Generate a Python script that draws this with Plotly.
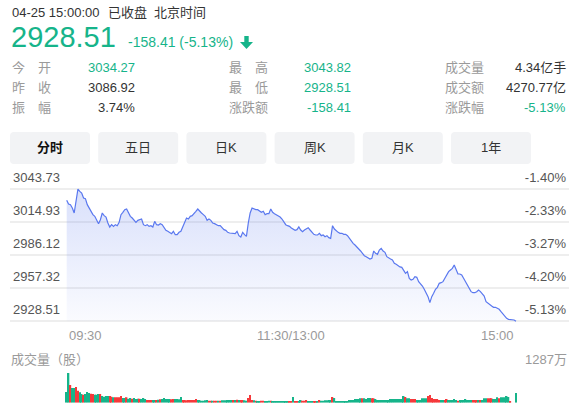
import plotly.graph_objects as go

W, H = 571, 405
FONT = "Liberation Sans, Noto Sans CJK SC, sans-serif"
GREEN = "#16b48a"
RED = "#f5393b"
BLUE = "#5a78ef"
GRAY = "#9a9a9a"
DARK = "#333333"

# --- data: 上证指数 04-25 分时 ---
PREV_CLOSE = 3086.92

# one price per trading minute, 09:30 .. 11:30/13:00 .. 15:00
PRICE = [
    3034.27, 3030.90, 3030.32, 3027.41, 3023.04, 3034.68, 3043.82, 3041.96, 3040.50, 3036.14,
    3035.56, 3030.32, 3027.41, 3024.50, 3021.59, 3020.13, 3017.22, 3013.73, 3017.22, 3023.04,
    3020.71, 3019.55, 3014.31, 3010.82, 3012.86, 3011.40, 3012.86, 3011.98, 3014.89, 3021.59,
    3023.62, 3025.95, 3026.53, 3023.62, 3020.13, 3018.68, 3016.64, 3014.89, 3016.64, 3017.22,
    3017.80, 3012.86, 3011.98, 3012.86, 3011.40, 3011.98, 3010.82, 3015.77, 3012.86, 3012.57,
    3013.73, 3012.86, 3009.95, 3007.91, 3007.04, 3006.17, 3005.00, 3007.04, 3004.13, 3004.13,
    3006.17, 3007.04, 3011.40, 3015.77, 3018.68, 3017.80, 3020.13, 3020.71, 3023.04, 3024.50,
    3026.53, 3024.50, 3023.04, 3021.59, 3020.13, 3016.64, 3017.80, 3016.64, 3014.31, 3013.73,
    3012.86, 3011.98, 3011.98, 3009.95, 3008.49, 3007.91, 3006.17, 3005.59, 3005.59, 3005.59,
    3005.00, 3007.04, 3003.26, 3002.09, 3006.17, 3004.13, 3002.67, 3014.31, 3023.04, 3027.41,
    3026.53, 3025.95, 3025.95, 3024.50, 3023.62, 3024.50, 3021.59, 3022.46, 3022.46, 3026.53,
    3023.62, 3022.46, 3021.59, 3020.71, 3019.55, 3017.80, 3015.77, 3012.86, 3011.98, 3011.40,
    3009.95, 3009.08, 3007.91, 3008.49, 3010.90, 3008.20, 3006.74, 3008.20, 3009.65, 3010.24,
    3008.20, 3006.16, 3004.42, 3003.83, 3003.83, 3005.29, 3003.25, 3003.83, 3002.38, 3003.25,
    3001.50, 3000.92, 3011.98, 3009.07, 3007.33, 3006.16, 3005.29, 3005.29, 3004.42, 3004.42,
    3003.25, 3000.92, 2999.47, 2996.56, 2995.10, 2993.65, 2992.19, 2989.87, 2987.83, 2985.79,
    2984.92, 2983.47, 2982.88, 2983.47, 2989.87, 2987.83, 2986.96, 2990.74, 2992.19, 2989.87,
    2988.70, 2984.92, 2983.47, 2982.88, 2982.01, 2979.10, 2978.23, 2977.07, 2976.00, 2975.62,
    2973.29, 2970.38, 2971.84, 2966.02, 2964.56, 2965.15, 2967.47, 2966.89, 2963.11, 2961.65,
    2959.33, 2956.42, 2952.92, 2950.01, 2944.78, 2950.01, 2952.92, 2956.42, 2958.16, 2961.65,
    2962.23, 2963.11, 2966.02, 2968.93, 2971.84, 2973.29, 2974.75, 2977.66, 2973.87, 2969.80,
    2969.80, 2968.93, 2966.02, 2963.11, 2960.20, 2958.16, 2954.38, 2953.51, 2953.51, 2954.38,
    2955.83, 2954.38, 2952.92, 2950.60, 2945.65, 2944.19, 2942.74, 2941.87, 2940.70, 2940.70,
    2939.83, 2938.96, 2936.92, 2934.88, 2932.56, 2931.10, 2930.23, 2930.23, 2929.65, 2929.65,
    2928.51,
]

# 成交量, 万股 per minute
VOLUME = [
    463, 1287, 766, 636, 636, 680, 520, 448, 376, 347,
    376, 463, 419, 390, 376, 347, 347, 376, 376, 289,
    260, 289, 289, 289, 260, 231, 231, 231, 231, 289,
    202, 202, 231, 174, 202, 174, 202, 159, 174, 174,
    159, 202, 159, 116, 116, 116, 116, 116, 116, 130,
    145, 159, 202, 159, 159, 159, 145, 159, 159, 159,
    145, 246, 116, 116, 101, 116, 116, 116, 116, 159,
    116, 116, 87, 87, 101, 116, 87, 87, 87, 87,
    87, 87, 87, 101, 101, 101, 116, 116, 116, 116,
    116, 130, 116, 116, 116, 101, 87, 202, 333, 116,
    101, 87, 72, 72, 87, 87, 72, 72, 87, 87,
    72, 72, 72, 58, 72, 72, 72, 58, 72, 43,
    43, 246, 72, 72, 72, 116, 87, 87, 116, 72,
    72, 72, 72, 72, 72, 116, 87, 87, 101, 101,
    116, 116, 246, 202, 72, 72, 72, 72, 72, 72,
    72, 116, 116, 116, 159, 159, 159, 188, 188, 188,
    159, 202, 202, 188, 188, 159, 116, 116, 116, 116,
    116, 116, 116, 159, 159, 159, 159, 159, 159, 159,
    289, 246, 188, 188, 159, 159, 159, 116, 116, 116,
    188, 188, 188, 289, 333, 202, 159, 159, 159, 116,
    116, 116, 116, 159, 116, 116, 116, 159, 116, 87,
    116, 116, 116, 159, 116, 116, 116, 116, 116, 116,
    116, 116, 116, 188, 188, 188, 188, 188, 159, 159,
    231, 188, 231, 231, 231, 289, 246, 43, 0, 0,
    419,
]

# r = 上涨 (red), g = 下跌 (green)
VOL_DIR = "".join([
    "ggrggrrggr", "gggrrgggrg", "gggrrgrrrr", "ggrggrgggr", "gggrrrggrg",
    "rgggggrrgg", "ggrrrrrrrr", "ggggggrrgr", "rgrggggggr", "grgrrggrrr",
    "grggrrgggr", "gggggggggr", "rgrrggrrrg", "ggrrgrgggg", "ggrggggggg",
    "ggggggggrg", "gggrrggggg", "gggggggggg", "grggrrrggg", "gggrrrrrrr",
    "ggrrgggggr", "gggggggrrr", "grgggrrrgg", "grgggggrgg", "g",
])

Y_TICKS = [2928.51, 2957.32, 2986.12, 3014.93, 3043.73]
X_TICKS = [0, 120, 240]
X_TICK_TEXT = ["09:30", "11:30/13:00", "15:00"]
VOL_MAX_TEXT = "1287万"

TABS = ["分时", "五日", "日K", "周K", "月K", "1年"]

STATS = [
    [("今\u3000开", "3034.27", GREEN), ("最\u3000高", "3043.82", GREEN), ("成交量", "4.34亿手", DARK)],
    [("昨\u3000收", "3086.92", DARK), ("最\u3000低", "2928.51", GREEN), ("成交额", "4270.77亿", DARK)],
    [("振\u3000幅", "3.74%", DARK), ("涨跌额", "-158.41", GREEN), ("涨跌幅", "-5.13%", GREEN)],
]


def px(x):
    return x / W


def py(y):
    return 1 - y / H


def note(text, x, y, size=13, color=DARK, anchor="left", xref="paper"):
    fig.add_annotation(
        text=text, x=x if xref != "paper" else px(x), y=py(y),
        xref=xref, yref="paper", xanchor=anchor, yanchor="middle",
        showarrow=False, font=dict(family=FONT, size=size, color=color),
    )


def poly(points):
    return "M " + " L ".join(f"{px(a):.5f},{py(b):.5f}" for a, b in points) + " Z"


def rounded(x0, y0, x1, y1, r):
    p = lambda a, b: f"{px(a):.5f},{py(b):.5f}"
    return (f"M {p(x0 + r, y0)} L {p(x1 - r, y0)} Q {p(x1, y0)} {p(x1, y0 + r)} "
            f"L {p(x1, y1 - r)} Q {p(x1, y1)} {p(x1 - r, y1)} L {p(x0 + r, y1)} "
            f"Q {p(x0, y1)} {p(x0, y1 - r)} L {p(x0, y0 + r)} Q {p(x0, y0)} {p(x0 + r, y0)} Z")


minutes = list(range(len(PRICE)))
pct_text = [f"{(v - PREV_CLOSE) / PREV_CLOSE * 100:.2f}%" for v in Y_TICKS]
bar_colors = [RED if d == "r" else GREEN for d in VOL_DIR]

# pixel geometry of the chart areas
left, right = 10, 569
x0_px, x1_px = 66.7, 516.0
ppm = (x1_px - x0_px) / 240
x_range = [-(x0_px - left) / ppm, 240 + (right - x1_px) / ppm]
top_px, bot_px = 189.3, 321.3
ppu = (bot_px - top_px) / (Y_TICKS[-1] - Y_TICKS[0])
pad_b, pad_t = 4, 20   # room above the top grid line for its labels
y_range = [Y_TICKS[0] - pad_b / ppu, Y_TICKS[-1] + pad_t / ppu]
price_dom = [py(bot_px + pad_b), py(top_px - pad_t)]
vol_dom = [py(402.7), py(373.0)]

fig = go.Figure()

fig.add_trace(go.Scatter(
    x=[0, 240], y=[Y_TICKS[0], Y_TICKS[0]], mode="lines",
    line=dict(width=0), hoverinfo="skip", showlegend=False,
))
fig.add_trace(go.Scatter(
    x=minutes, y=PRICE, mode="lines",
    line=dict(color=BLUE, width=1.2),
    fill="tonexty",
    fillgradient=dict(
        type="vertical",
        colorscale=[[0, "rgba(90,120,239,0.03)"], [1, "rgba(90,120,239,0.23)"]],
        start=Y_TICKS[0], stop=Y_TICKS[-1],
    ),
    showlegend=False,
))
fig.add_trace(go.Scatter(x=[None], y=[None], yaxis="y2", showlegend=False, hoverinfo="skip"))
fig.add_trace(go.Bar(
    x=minutes, y=VOLUME, marker=dict(color=bar_colors, line=dict(width=0)),
    width=0.8, xaxis="x2", yaxis="y3", showlegend=False,
))

axis_font = dict(family=FONT, size=13, color="#555555")
fig.update_layout(
    width=W, height=H, autosize=False,
    margin=dict(l=0, r=0, t=0, b=0),
    paper_bgcolor="white", plot_bgcolor="white",
    font=dict(family=FONT),
    xaxis=dict(domain=[px(left), px(right)], range=x_range, showgrid=False, zeroline=False,
               showticklabels=False, anchor="y", fixedrange=True),
    yaxis=dict(domain=price_dom, range=y_range, tickvals=Y_TICKS,
               ticktext=[f"{v:.2f}" for v in Y_TICKS], ticklabelposition="inside top",
               ticklabelshift=-3,
               showgrid=True, gridcolor="#eeeeee", gridwidth=1.5, zeroline=False,
               tickfont=axis_font, anchor="x", ticks=""),
    yaxis2=dict(overlaying="y", side="right", range=y_range, tickvals=Y_TICKS,
                ticktext=pct_text, ticklabelposition="inside top", ticklabelshift=-3,
                showgrid=False, zeroline=False, tickfont=axis_font, anchor="x", ticks=""),
    xaxis2=dict(domain=[px(left), px(right)], range=x_range, visible=False, anchor="y3"),
    yaxis3=dict(domain=vol_dom, range=[0, max(VOLUME)], tickvals=[0], showticklabels=False,
                showgrid=True, gridcolor="#eeeeee", gridwidth=1.5, zeroline=False, anchor="x2"),
)

# x tick labels, aligned like the reference (first left, last right)
for v, t, a in zip(X_TICKS, X_TICK_TEXT, ["left", "center", "right"]):
    note(t, v, 335.5, color=GRAY, anchor=a, xref="x")

# header
note("04-25 15:00:00", 10, 12.7)
note("已收盘", 106, 12.7)
note("北京时间", 152, 12.7)
note("2928.51", 9, 37.5, size=29, color=GREEN)
note("-158.41 (-5.13%)", 126, 42, size=14, color=GREEN)
fig.add_shape(type="path", xref="paper", yref="paper", line=dict(width=0), fillcolor=GREEN,
              path=poly([(244.3, 36), (248.7, 36), (248.7, 42), (253, 42), (246.5, 49),
                         (240, 42), (244.3, 42)]))

# stats table
label_x = [10, 227, 443]
value_x = [137, 353, 568]
for r, row in enumerate(STATS):
    y = 68 + 20 * r
    for c, (lab, val, col) in enumerate(row):
        note(lab, label_x[c], y, color=GRAY)
        note(val, value_x[c], y, color=col, anchor="right")

# tabs
for i, t in enumerate(TABS):
    xa = 10 + 88.2 * i
    fig.add_shape(type="path", xref="paper", yref="paper", line=dict(width=0),
                  fillcolor="#f2f3f5", path=rounded(xa, 132, xa + 80, 164, 4), layer="below")
    note(f"<b>{t}</b>" if i == 0 else t, xa + 40, 148, color="#111111" if i == 0 else DARK,
         anchor="center")

# volume labels
note("成交量（股）", 9, 359, color=GRAY)
note(VOL_MAX_TEXT, 569, 359, color=GRAY, anchor="right")

fig.write_html("out.html", config={"displayModeBar": False},
               post_script="document.body.style.margin='0';")
